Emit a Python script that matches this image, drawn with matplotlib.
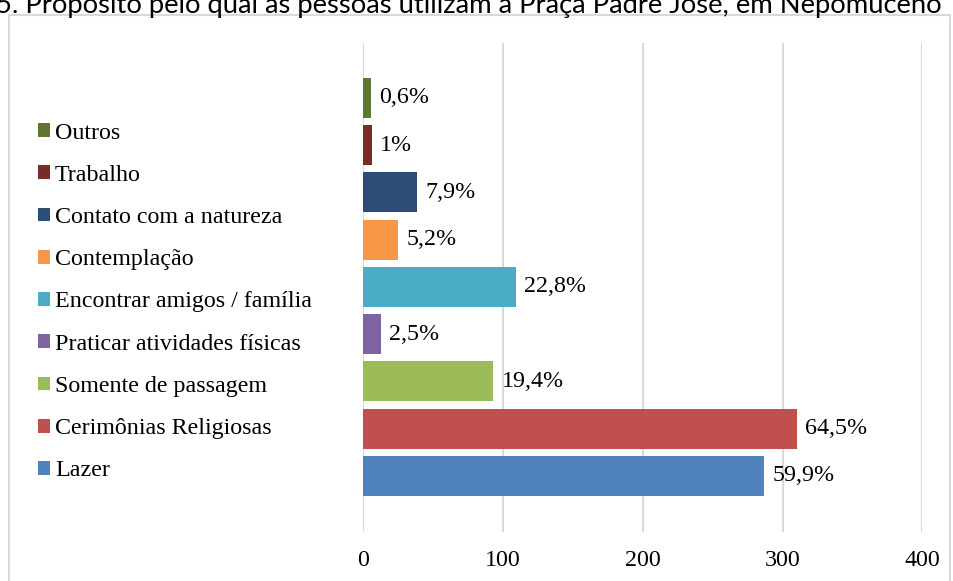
import matplotlib.pyplot as plt
from matplotlib.patches import Patch, Rectangle

# =========================
# Dados
# =========================
categorias = ["Lazer", "Cerimônias Religiosas", "Somente de passagem",
              "Praticar atividades físicas", "Encontrar amigos / família",
              "Contemplação", "Contato com a natureza", "Trabalho", "Outros"]
valores = [287, 310, 93, 12.5, 109, 25, 38, 6, 5.5]
rotulos = ["59,9%", "64,5%", "19,4%", "2,5%", "22,8%", "5,2%", "7,9%", "1%", "0,6%"]
cores = ["#4F81BD", "#C0504D", "#9BBB59", "#8064A2", "#4BACC6",
         "#F79646", "#2C4D75", "#772C2A", "#5F7530"]
ticks_x = [0, 100, 200, 300, 400]
titulo = "5. Propósito pelo qual as pessoas utilizam a Praça Padre José, em Nepomuceno"

W, H = 954, 581
serif = "Liberation Serif"
fs = 24 * 72 / 100  # 24 px

fig = plt.figure(figsize=(W / 100, H / 100), dpi=100)

# borda do gráfico
fig.patches.append(Rectangle((9.5 / W, -0.1), (950 - 9.5) / W, 1.1 - 15 / H,
                             transform=fig.transFigure, fill=False,
                             edgecolor="#d9d9d9", linewidth=1.5))

# =========================
# Barras
# =========================
ax = fig.add_axes([363.5 / W, 1 - 531.7 / H, (922.3 - 363.5) / W, (531.7 - 43) / H])
pos = list(range(len(categorias)))
bars = ax.barh(pos, valores, height=0.85, color=cores, zorder=3)
ax.bar_label(bars, labels=rotulos, padding=6, fontsize=fs, family=serif, color="#000000")

ax.set_xlim(0, 400)
ax.set_ylim(-1.18, 9.16)
ax.set_xticks(ticks_x)
ax.set_xticklabels([str(t) for t in ticks_x], fontsize=fs, family=serif)
ax.set_yticks([])
ax.tick_params(axis="x", length=0, pad=13)
for s in ax.spines.values():
    s.set_visible(False)
ax.grid(axis="x", color="#d9d9d9", linewidth=1.5, zorder=0)

# =========================
# Legenda
# =========================
handles = [Patch(facecolor=c, edgecolor="none") for c in cores][::-1]
fig.legend(handles, categorias[::-1], loc="center left",
           bbox_to_anchor=(38 / W, 1 - 302 / H), frameon=False,
           prop={"family": serif, "size": fs}, handlelength=0.5, handleheight=0.5,
           handletextpad=0.21, labelspacing=0.885, borderpad=0, borderaxespad=0)

# =========================
# Título (cortado no topo, como no original)
# =========================
t = fig.text(-4 / W, 1 - 12.7 / H, titulo, fontsize=20, family="Lato",
             va="baseline", ha="left", color="#000000")
r = fig.canvas.get_renderer()
largura = t.get_window_extent(r).width
t.set_fontsize(20 * 951 / largura)

fig.savefig("out.png", dpi=100)
